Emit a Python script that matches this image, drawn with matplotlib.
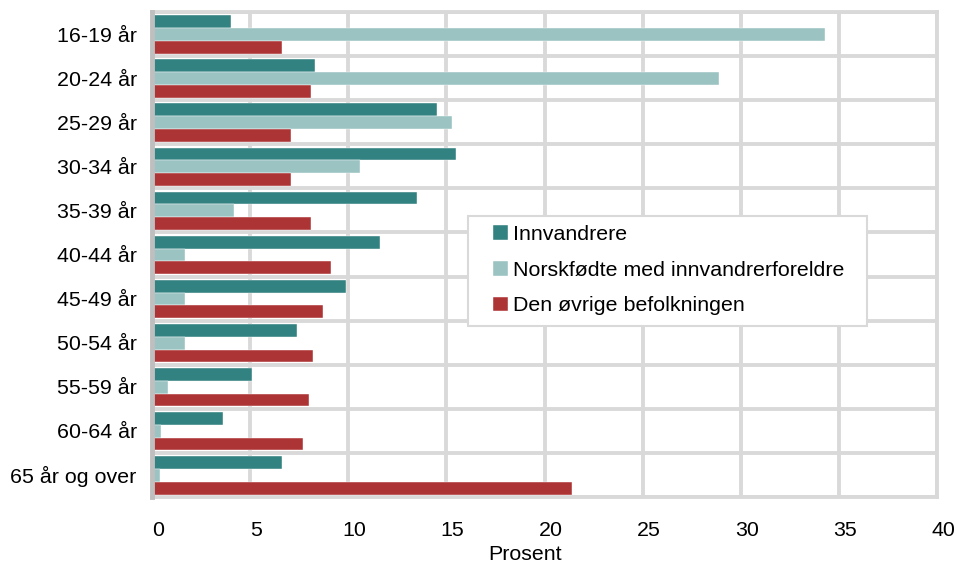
import matplotlib
matplotlib.use("Agg")
import matplotlib.pyplot as plt
import matplotlib.transforms as mtransforms
from matplotlib.patches import Rectangle
import numpy as np

categories = ["16-19 år", "20-24 år", "25-29 år", "30-34 år", "35-39 år", "40-44 år",
              "45-49 år", "50-54 år", "55-59 år", "60-64 år", "65 år og over"]
innvandrere = [4.0, 8.3, 14.5, 15.5, 13.5, 11.6, 9.9, 7.4, 5.1, 3.6, 6.6]
norskfodte = [34.3, 28.9, 15.3, 10.6, 4.2, 1.7, 1.7, 1.7, 0.8, 0.45, 0.4]
ovrige = [6.6, 8.1, 7.1, 7.1, 8.1, 9.1, 8.7, 8.2, 8.0, 7.7, 21.4]
series_names = ["Innvandrere", "Norskfødte med innvandrerforeldre", "Den øvrige befolkningen"]
colors = ["#338282", "#9bc3c2", "#ad3434"]
xticks = [0, 5, 10, 15, 20, 25, 30, 35, 40]

plt.rcParams['font.family'] = ['Liberation Sans', 'DejaVu Sans']
FS = 15.4

fig = plt.figure(figsize=(9.57, 5.65), dpi=100)
ax = fig.add_axes([152/957, 1-497/565, 785/957, (497-12)/565])

y = np.arange(len(categories))
h = 0.29
for i, (vals, name, c) in enumerate(zip([innvandrere, norskfodte, ovrige], series_names, colors)):
    ax.barh(y + (i - 1) * h + 0.01, vals, height=h, color=c, label=name,
            edgecolor='#ffffff', linewidth=0.3, zorder=3)

ax.set_xlim(0, 40)
ax.set_ylim(len(categories) - 0.5, -0.5)
ax.set_yticks(y)
ax.set_yticklabels(categories, fontsize=FS)
ax.set_yticks(np.arange(len(categories) + 1) - 0.5, minor=True)
ax.set_xticks(xticks)
ax.set_xticklabels([str(t) for t in xticks], fontsize=FS)
ax.tick_params(axis='y', which='both', length=0, pad=11)
ax.tick_params(axis='x', which='both', length=0, pad=17)

offset = mtransforms.ScaledTranslation(6/100, 0, fig.dpi_scale_trans)
for lab in ax.get_xticklabels():
    lab.set_transform(lab.get_transform() + offset)

ax.grid(axis='x', which='major', color='#d9d9d9', linewidth=2.8, zorder=0)
ax.grid(axis='y', which='minor', color='#d9d9d9', linewidth=2.8, zorder=0)
ax.set_axisbelow(True)

for s in ['top', 'right', 'bottom']:
    ax.spines[s].set_color('#d9d9d9')
    ax.spines[s].set_linewidth(2.8)
ax.spines['left'].set_color('#bfbfbf')
ax.spines['left'].set_linewidth(3.5)
ax.spines['left'].set_zorder(4)

ax.set_xlabel("Prosent", fontsize=FS)
ax.xaxis.set_label_coords((525-152)/785, -0.10)

# legend frame
frame = Rectangle((468/957, 1-326/565), (867-468)/957, (326-216)/565, transform=fig.transFigure,
                  facecolor='white', edgecolor='#d9d9d9', linewidth=1.5, zorder=5, clip_on=False)
ax.add_patch(frame)

leg = ax.legend(loc='upper left', bbox_to_anchor=(493/957, 1-225/565), bbox_transform=fig.transFigure,
                fontsize=FS, frameon=False,
                handlelength=0.68, handleheight=0.68, handletextpad=0.25, labelspacing=0.78,
                borderpad=0, borderaxespad=0)
leg.set_zorder(6)

fig.savefig("out.png", dpi=100)
